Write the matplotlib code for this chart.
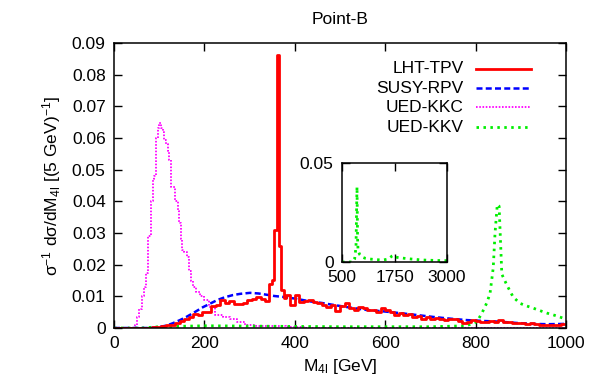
import matplotlib
matplotlib.use("Agg")
import matplotlib.pyplot as plt
from matplotlib.lines import Line2D

plt.rcParams["font.family"] = ["Liberation Sans", "DejaVu Sans"]
plt.rcParams["mathtext.fontset"] = "custom"
plt.rcParams["mathtext.rm"] = "Liberation Sans"
plt.rcParams["mathtext.it"] = "Liberation Sans"

# ---- data ----
lht_mass = [0, 10, 20, 30, 40, 50, 60, 70, 80, 90, 100, 110, 120, 130, 140, 150,
            160, 170, 180, 190, 200, 210, 220, 230, 240, 250, 260, 270, 280, 290,
            300, 310, 320, 330, 340, 347.5, 352.5, 357.5, 362.5, 367.5, 372.5,
            377.5, 385, 395, 405, 415, 425, 435, 445, 455, 465, 475, 485, 495,
            505, 515, 525, 535, 545, 555, 565, 575, 585, 595, 605, 615, 625, 635,
            645, 655, 665, 675, 685, 695, 705, 715, 725, 735, 745, 755, 765, 775,
            785, 795, 805, 815, 825, 835, 845, 855, 865, 875, 885, 895, 905, 915,
            925, 935, 945, 955, 965, 975, 985, 995]
lht_tpv = [0, 0, 0, 0, 0, 0, 0, 0, 0, 0.0003, 0.0004, 0.0006, 0.0009, 0.0011,
           0.0016, 0.0021, 0.0027, 0.0034, 0.0045, 0.0041, 0.0050, 0.0052, 0.0068,
           0.0072, 0.0088, 0.0079, 0.0085, 0.0076, 0.0075, 0.0078, 0.0088, 0.0092,
           0.0098, 0.0091, 0.0085, 0.0140, 0.0152, 0.0310, 0.0862, 0.0260, 0.0120,
           0.0095, 0.0105, 0.0072, 0.0105, 0.0082, 0.0085, 0.0088, 0.0082, 0.0079,
           0.0072, 0.0066, 0.0072, 0.0055, 0.0068, 0.0079, 0.0062, 0.0057, 0.0065,
           0.0062, 0.0058, 0.0057, 0.0052, 0.0063, 0.0058, 0.0049, 0.0041, 0.0048,
           0.0041, 0.0044, 0.0035, 0.0039, 0.0030, 0.0034, 0.0028, 0.0031, 0.0028,
           0.0026, 0.0030, 0.0027, 0.0022, 0.0015, 0.0020, 0.0025, 0.0021, 0.0018,
           0.0020, 0.0022, 0.0019, 0.0025, 0.0018, 0.0020, 0.0015, 0.0017, 0.0015,
           0.0013, 0.0015, 0.0012, 0.0010, 0.0011, 0.0009, 0.0008, 0.0010, 0.0012]

susy_mass = [0, 80, 100, 117, 130, 146, 160, 175, 197, 210, 228, 245, 263, 280,
             301, 320, 338, 355, 375, 400, 434, 460, 485, 520, 559, 600, 633, 670,
             706, 740, 780, 820, 854, 890, 927, 960, 1000]
susy_rpv = [0, 0, 0.0003, 0.0008, 0.0015, 0.0025, 0.0035, 0.0047, 0.0066, 0.0075,
            0.0088, 0.0097, 0.0104, 0.0108, 0.0111, 0.0109, 0.0105, 0.0101, 0.0098,
            0.0093, 0.0084, 0.0079, 0.0073, 0.0065, 0.0057, 0.0052, 0.0047, 0.0041,
            0.0035, 0.0030, 0.0025, 0.0022, 0.0020, 0.0016, 0.0013, 0.0012, 0.0013]

kkc_mass = [0, 45, 49, 53, 58, 64, 69, 73, 78, 84, 88, 91, 95, 99, 102, 106, 109,
            113, 117, 121, 124, 128, 133, 139, 143, 146, 150, 153, 158, 164, 168,
            172, 179, 186, 195, 205, 215, 234, 250, 263, 280, 300, 330, 360, 400,
            450, 1000]
ued_kkc = [0, 0, 0.0008, 0.0035, 0.0060, 0.0100, 0.0130, 0.0173, 0.0290, 0.0400,
           0.0470, 0.0480, 0.0600, 0.0630, 0.0647, 0.0630, 0.0620, 0.0595, 0.0580,
           0.0560, 0.0530, 0.0445, 0.0445, 0.0400, 0.0370, 0.0330, 0.0280, 0.0246,
           0.0240, 0.0224, 0.0180, 0.0150, 0.0130, 0.0114, 0.0100, 0.0088, 0.0065,
           0.0040, 0.0035, 0.0030, 0.0020, 0.0010, 0.0007, 0.0005, 0.0002, 0.0001, 0]

kkv_mass = [0, 60, 100, 200, 300, 400, 500, 600, 700, 780, 803, 814, 825, 832,
            839, 843, 848, 852, 858, 869, 883, 898, 912, 927, 942, 958, 975, 996,
            1000]
ued_kkv = [0, 0, 0.0004, 0.0007, 0.0006, 0.0005, 0.0004, 0.0004, 0.0004, 0.0007,
           0.0020, 0.0047, 0.0080, 0.0110, 0.0190, 0.0300, 0.0390, 0.0385, 0.0170,
           0.0136, 0.0098, 0.0078, 0.0070, 0.0063, 0.0055, 0.0047, 0.0040, 0.0030,
           0.0030]

inset_mass = [500, 700, 760, 800, 833, 850, 857, 870, 881, 920, 976, 1050, 1167,
              1300, 1476, 1600, 1690, 1720, 1762, 1850, 2048, 2250, 2429, 2700,
              2905, 3000]
inset_kkv = [0, 0, 0, 0.0015, 0.0076, 0.0300, 0.0380, 0.0120, 0.0060, 0.0038,
             0.0025, 0.0019, 0.0015, 0.0012, 0.0010, 0.0015, 0.0030, 0.0033,
             0.0025, 0.0022, 0.0017, 0.0013, 0.0010, 0.0008, 0.0007, 0.0007]

labels = ["LHT-TPV", "SUSY-RPV", "UED-KKC", "UED-KKV"]

RED, BLUE, MAG, GRN = "#ff0000", "#0000ff", "#ff00ff", "#00ee00"
styles = [dict(color=RED, lw=2.0, ls="-"),
          dict(color=BLUE, lw=1.8, dashes=(2.4, 1.3)),
          dict(color=MAG, lw=1.3, dashes=(0.9, 0.9)),
          dict(color=GRN, lw=2.0, dashes=(0.9, 1.6))]

fig = plt.figure(figsize=(5.91, 3.89), dpi=100)
ax = fig.add_axes([0.1929, 0.1568, 0.7648, 0.7327])

ax.plot(kkc_mass, ued_kkc, drawstyle="steps-mid", **styles[2])
ax.plot(kkv_mass, ued_kkv, **styles[3])
ax.plot(susy_mass, susy_rpv, **styles[1])
ax.plot(lht_mass, lht_tpv, drawstyle="steps-mid", **styles[0])

ax.set_xlim(0, 1000)
ax.set_ylim(0, 0.09)
ax.set_xticks([0, 200, 400, 600, 800, 1000])
ax.set_yticks([0, 0.01, 0.02, 0.03, 0.04, 0.05, 0.06, 0.07, 0.08, 0.09])
ax.set_yticklabels(["0", "0.01", "0.02", "0.03", "0.04", "0.05", "0.06", "0.07",
                    "0.08", "0.09"])
ax.tick_params(direction="in", length=6, width=1.0, top=True, right=True,
               labelsize=12.5, pad=6)
for s in ax.spines.values():
    s.set_linewidth(1.1)

ax.set_xlabel(r"M$_{\mathregular{4l}}$ [GeV]", fontsize=12.5, labelpad=4)
ax.set_ylabel(r"$\mathregular{\sigma^{-1}}$ d$\mathregular{\sigma}$/dM$_{\mathregular{4l}}$ "
              r"[(5 GeV)$^{\mathregular{-1}}$]", fontsize=12.5, labelpad=6)
ax.set_title("Point-B", fontsize=12.5, pad=14)

# legend (text right-aligned, sample to the right)
rows = [0.909, 0.842, 0.775, 0.705]
for lab, st, yy in zip(labels, styles, rows):
    ax.text(0.774, yy, lab, transform=ax.transAxes, ha="right", va="center",
            fontsize=12.5)
    ax.add_line(Line2D([0.801, 0.923], [yy, yy], transform=ax.transAxes, **st))

# inset
axi = fig.add_axes([0.5787, 0.3265, 0.1777, 0.2545])
axi.plot(inset_mass, inset_kkv, **styles[3])
axi.set_xlim(500, 3000)
axi.set_ylim(0, 0.05)
axi.set_xticks([500, 1750, 3000])
axi.set_yticks([0, 0.05])
axi.set_yticklabels(["0", "0.05"])
axi.tick_params(direction="in", length=6, width=1.0, top=True, right=True,
                labelsize=12.5, pad=6)
for s in axi.spines.values():
    s.set_linewidth(1.1)

fig.savefig("out.png", dpi=100, facecolor="white")
